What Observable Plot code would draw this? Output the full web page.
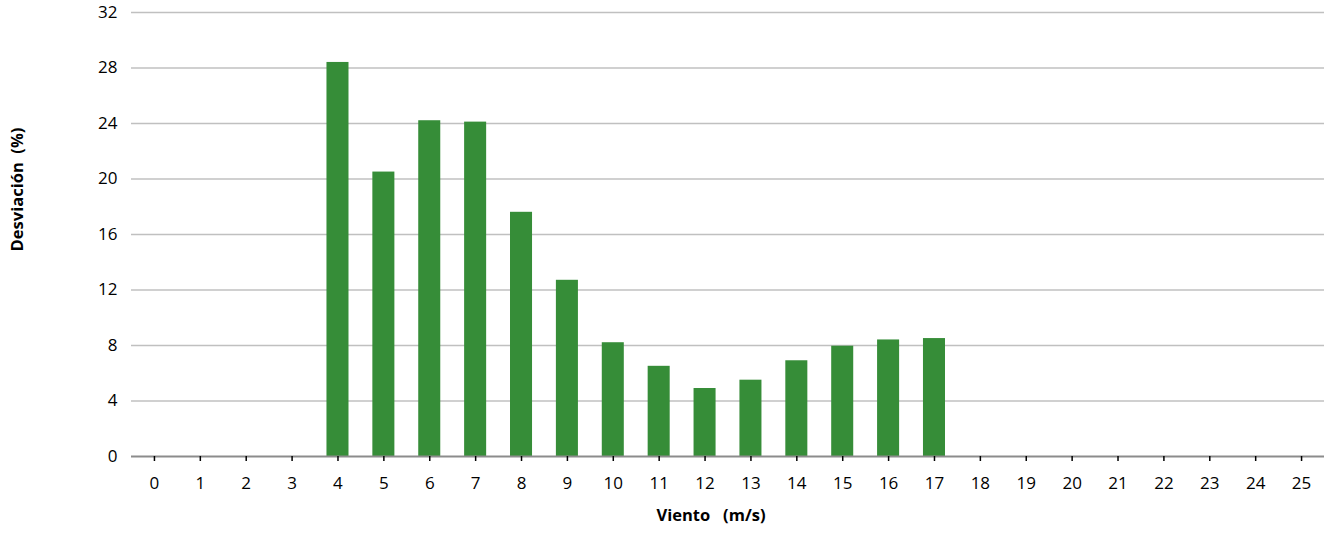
<!DOCTYPE html>
<html>
<head>
<meta charset="utf-8">
<script src="https://cdn.jsdelivr.net/npm/d3@7"></script>
<script src="https://cdn.jsdelivr.net/npm/@observablehq/plot@0.6"></script>
<style>
  html, body { margin: 0; padding: 0; background: #fff; }
</style>
</head>
<body>
<div id="chart"></div>
<script>
// Tick labels on the x axis (wind speed, m/s)
const windCategories = ["0","1","2","3","4","5","6","7","8","9","10","11","12","13","14","15","16","17","18","19","20","21","22","23","24","25"];
// Wind speeds that have a bar
const barWinds = ["4","5","6","7","8","9","10","11","12","13","14","15","16","17"];
// Deviation values (%)
const deviations = [28.4, 20.5, 24.2, 24.1, 17.6, 12.7, 8.2, 6.5, 4.9, 5.5, 6.9, 7.95, 8.4, 8.5];
// Y tick labels
const yTicks = [0, 4, 8, 12, 16, 20, 24, 28, 32];

const xTitle = "Viento\u00a0\u00a0 (m/s)";
const yTitle = "Desviación\u00a0 (%)";

const data = barWinds.map((w, i) => ({wind: w, dev: deviations[i]}));

const chart = Plot.plot({
  width: 1324,
  height: 535,
  marginLeft: 131,
  marginRight: 0,
  marginTop: 12,
  marginBottom: 79,
  style: {fontFamily: "'Open Sans', sans-serif", fontSize: "17px", color: "#000", background: "#fff"},
  x: {domain: windCategories, paddingInner: 0.52, paddingOuter: 0.26, round: false, label: null},
  y: {domain: [0, 32], label: null},
  marks: [
    Plot.gridY(yTicks.filter(d => d > 0), {stroke: "#c0c0c0", strokeOpacity: 1, strokeWidth: 1.6}),
    Plot.barY(data, {x: "wind", y: "dev", fill: "#368d38"}),
    Plot.ruleY([0], {stroke: "#8c8c8c", strokeWidth: 2}),
    Plot.axisY({ticks: yTicks, tickSize: 0, tickPadding: 14, label: null, fontSize: 17, fill: "#000"}),
    Plot.axisX({tickSize: 5, tickPadding: 15, label: null, stroke: "#000", strokeWidth: 1.5, fontSize: 17, fill: "#000"}),
    Plot.text([xTitle], {frameAnchor: "bottom", dy: 64, dx: -17, textAnchor: "middle", fontWeight: "bold", fontSize: 16.5, fill: "#000"}),
    Plot.text([yTitle], {frameAnchor: "left", rotate: -90, dx: -114, dy: -45, textAnchor: "middle", fontWeight: "bold", fontSize: 16.5, fill: "#000"})
  ]
});
document.getElementById("chart").appendChild(chart);
</script>
</body>
</html>
